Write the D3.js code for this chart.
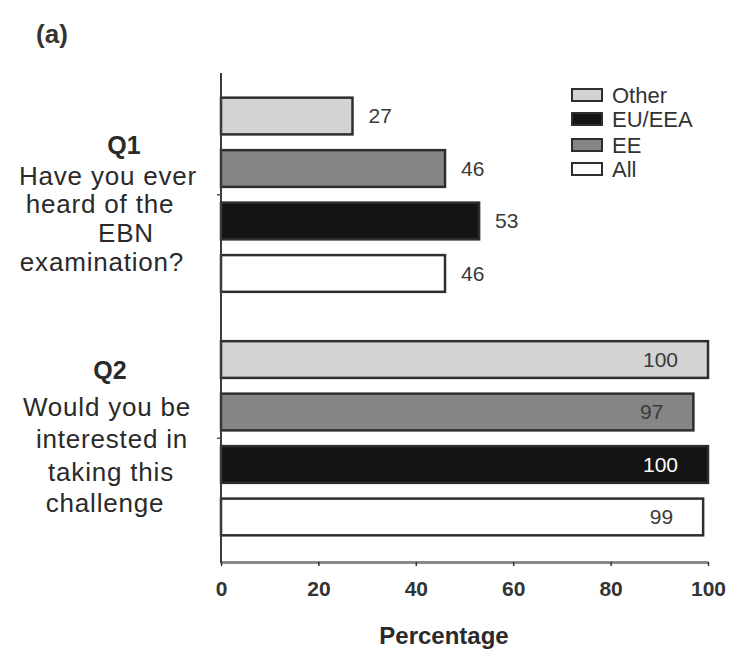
<!DOCTYPE html>
<html>
<head>
<meta charset="utf-8">
<script src="https://cdn.jsdelivr.net/npm/d3@7"></script>
<style>
  html, body { margin: 0; padding: 0; background: #fff; }
  svg { display: block; }
  text { font-family: "Liberation Sans", Arial, sans-serif; }
</style>
</head>
<body>
<svg id="chart" width="734" height="654"></svg>
<script>
// Survey questions (y categories)
const questions = ["Q1", "Q2"];
const questionTitles = ["Q1", "Q2"];
const questionLines = [
  ["Have you ever", "heard of the", "EBN", "examination?"],
  ["Would you be", "interested in", "taking this", "challenge"]
];
// Respondent groups, in drawing order within each question
const groups = ["Other", "EE", "EU/EEA", "All"];
// Legend order
const legendOrder = ["Other", "EU/EEA", "EE", "All"];
// Percentage answering yes, per group
const q1Values = [27, 46, 53, 46];
const q2Values = [100, 97, 100, 99];
const xTicks = [0, 20, 40, 60, 80, 100];

const fills = { "Other": "#d3d3d3", "EE": "#858585", "EU/EEA": "#141414", "All": "#ffffff" };
const labelColor = { "Other": "#3a3a3a", "EE": "#3a3a3a", "EU/EEA": "#ffffff", "All": "#3a3a3a" };

const rows = [];
questions.forEach((q, qi) => {
  const vals = qi === 0 ? q1Values : q2Values;
  groups.forEach((g, gi) => rows.push({ q, g, v: vals[gi] }));
});

const svg = d3.select("#chart");
const plotLeft = 221, plotRight = 708, plotTop = 73, plotBottom = 560;

const x = d3.scaleLinear().domain([0, 100]).range([plotLeft, plotRight]);
const yOuter = d3.scaleBand().domain(questions).range([plotTop, plotBottom]).padding(0);
const yInner = d3.scaleBand().domain(groups).range([0, yOuter.bandwidth()])
  .paddingInner(0.3).paddingOuter(0.47);

// Bars
svg.append("g").selectAll("rect").data(rows).join("rect")
  .attr("x", x(0))
  .attr("y", d => yOuter(d.q) + yInner(d.g))
  .attr("width", d => x(d.v) - x(0))
  .attr("height", yInner.bandwidth())
  .attr("fill", d => fills[d.g])
  .attr("stroke", "#2e2e2e")
  .attr("stroke-width", 2.5);

// Value labels: outside for Q1, inside the bar end for Q2
svg.append("g").selectAll("text").data(rows).join("text")
  .attr("x", d => d.q === "Q1" ? x(d.v) + 16 : x(d.v) - 30)
  .attr("y", d => yOuter(d.q) + yInner(d.g) + yInner.bandwidth() / 2)
  .attr("dy", "0.35em")
  .attr("text-anchor", d => d.q === "Q1" ? "start" : "end")
  .attr("font-size", 21)
  .attr("fill", d => d.q === "Q1" ? "#3a3a3a" : labelColor[d.g])
  .text(d => d.v);

// X axis
const xAxis = svg.append("g")
  .attr("transform", `translate(0,${562})`)
  .call(d3.axisBottom(x).tickValues(xTicks).tickSize(4).tickSizeOuter(0).tickPadding(15));
xAxis.select(".domain").attr("stroke", "#8a8a8a").attr("stroke-width", 3);
xAxis.selectAll(".tick line").attr("stroke", "#333").attr("stroke-width", 1.5);
xAxis.selectAll(".tick text")
  .attr("font-size", 21).attr("font-weight", "bold").attr("fill", "#333")
  .attr("font-family", "'Liberation Sans', Arial, sans-serif");

// Y axis
const yAxis = svg.append("g")
  .attr("transform", `translate(${plotLeft},0)`)
  .call(d3.axisLeft(yOuter).tickSize(4).tickSizeOuter(0).tickFormat(""));
yAxis.select(".domain").attr("stroke", "#3a3a3a").attr("stroke-width", 2)
  .attr("d", `M0,${plotTop}V${563}`);
yAxis.selectAll(".tick line").attr("stroke", "#555").attr("stroke-width", 1.5);

// Question text
const titleX = [124, 110];
const titleY = [145, 370];
const lineX = [[108, 100, 126, 102], [107, 112, 111, 105]];
const lineY = [[176, 204, 233, 262], [407, 439, 472, 503]];
questions.forEach((q, qi) => {
  svg.append("text")
    .attr("x", titleX[qi]).attr("y", titleY[qi]).attr("dy", "0.35em")
    .attr("text-anchor", "middle").attr("font-size", 25).attr("font-weight", "bold")
    .attr("fill", "#2a2a2a").text(questionTitles[qi]);
  questionLines[qi].forEach((ln, li) => {
    svg.append("text")
      .attr("x", lineX[qi][li]).attr("y", lineY[qi][li]).attr("dy", "0.35em")
      .attr("text-anchor", "middle").attr("font-size", 26)
      .attr("letter-spacing", "0.8px")
      .attr("fill", "#2a2a2a").text(ln);
  });
});

// Legend
const legendY = [95, 119, 145, 169];
const lg = svg.append("g").selectAll("g").data(legendOrder).join("g")
  .attr("transform", (d, i) => `translate(572,${legendY[i]})`);
lg.append("rect").attr("x", 0).attr("y", -6).attr("width", 30).attr("height", 12)
  .attr("fill", d => fills[d]).attr("stroke", "#2e2e2e").attr("stroke-width", 2);
lg.append("text").attr("x", 40).attr("y", 0).attr("dy", "0.35em")
  .attr("font-size", 22).attr("fill", "#333").text(d => d);

// Axis title
svg.append("text").attr("x", 444).attr("y", 636).attr("dy", "0.35em")
  .attr("text-anchor", "middle").attr("font-size", 24).attr("font-weight", "bold")
  .attr("fill", "#2a2a2a").text("Percentage");

// Panel label
svg.append("text").attr("x", 52).attr("y", 34).attr("dy", "0.35em")
  .attr("text-anchor", "middle").attr("font-size", 26).attr("font-weight", "bold")
  .attr("fill", "#333").text("(a)");
</script>
</body>
</html>
